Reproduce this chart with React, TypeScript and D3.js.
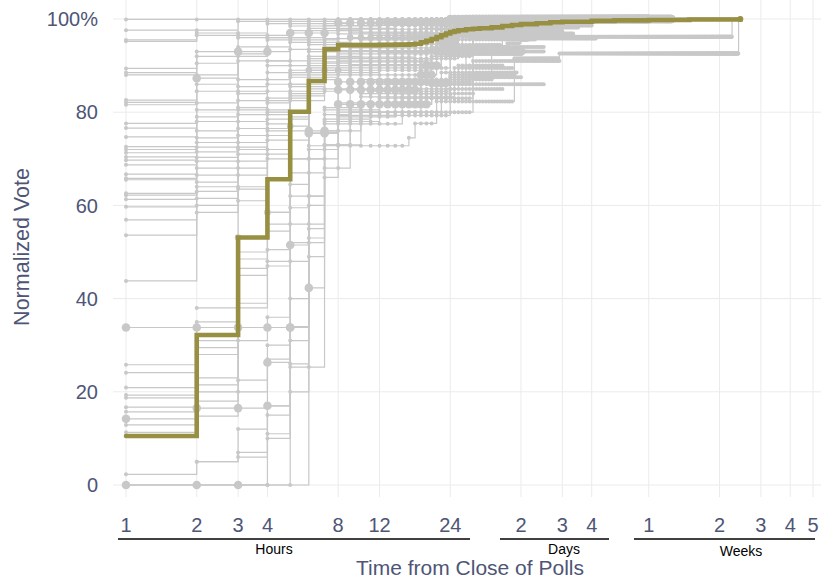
import React from "react";
import * as d3 from "d3";

// ---- Data ----
const hourTicks = [1, 2, 3, 4, 8, 12, 24];
const hourLabels = ["1", "2", "3", "4", "8", "12", "24"];
const dayTicks = [48, 72, 96];
const dayLabels = ["2", "3", "4"];
const weekTicks = [168, 336, 504, 672, 840];
const weekLabels = ["1", "2", "3", "4", "5"];
const yTicks = [0, 20, 40, 60, 80, 100];
const yLabels = ["0", "20", "40", "60", "80", "100%"];

const oliveHours = [1, 2, 3, 4, 5, 6, 7, 8, 12, 14, 16, 17, 18, 19, 20, 21, 22, 23, 24, 25, 26, 28, 30, 32, 36, 40, 44, 48, 56, 64, 72, 96, 120, 168, 250, 412];
const oliveValues = [10.5, 32.2, 53.1, 65.6, 80.1, 86.7, 93.5, 94.4, 94.45, 94.5, 94.55, 94.7, 95.0, 95.3, 95.7, 96.1, 96.5, 96.9, 97.2, 97.4, 97.6, 97.8, 97.9, 98.0, 98.2, 98.5, 98.7, 98.9, 99.1, 99.3, 99.4, 99.6, 99.7, 99.8, 99.9, 100];

// each grey series: list of [hour, normalized vote] reports where the value changed
const greyPaths: number[][][] = [
  [[1, 99.9], [20, 100]],
  [[1, 97.6], [3, 99.5], [8, 100]],
  [[1, 95.5], [2, 97], [4, 99], [9, 100]],
  [[1, 95.2], [2, 96.5], [5, 98.5], [12, 99.6]],
  [[1, 89.4], [2, 93], [3, 96], [6, 98], [14, 99.3], [40, 100]],
  [[1, 88.5], [2, 92], [4, 95.5], [8, 97.8], [30, 100]],
  [[1, 88.0], [2, 90.5], [3, 94], [5, 97.5], [10, 99], [30, 100]],
  [[1, 82.6], [2, 88], [3, 92.5], [4, 96], [7, 98.6], [26, 100]],
  [[1, 82.1], [2, 86], [3, 91], [5, 95], [9, 97.2], [20, 99], [40, 100]],
  [[1, 81.6], [2, 84.5], [4, 90], [6, 94.5], [11, 96.5], [22, 98.5], [50, 99.5]],
  [[1, 77.6], [2, 82], [3, 87], [5, 93.5], [8, 96.8], [22, 99.2]],
  [[1, 76.6], [2, 80.5], [3, 85.5], [4, 91], [7, 95.8], [18, 98]],
  [[1, 74.7], [2, 79], [3, 84], [4, 88.5], [6, 93], [10, 95.5], [21, 97.7], [34, 99]],
  [[1, 72.6], [2, 78], [3, 82.5], [5, 89], [7, 94], [16, 96.8], [28, 98.6]],
  [[1, 72.0], [2, 76], [3, 81], [4, 86], [6, 91.5], [9, 94.8], [19, 97]],
  [[1, 71.3], [2, 74.5], [3, 80.5], [5, 87.5], [8, 92.5], [20, 95.3], [26, 97.4]],
  [[1, 70.4], [2, 73.5], [3, 79.5], [4, 84.5], [6, 90], [22, 94], [30, 96.5]],
  [[1, 69.7], [2, 72.5], [4, 82], [5, 88], [7, 93], [24, 96.2]],
  [[1, 68.7], [2, 71.5], [3, 78], [4, 83], [6, 90.5], [9, 93.8], [23, 97.3]],
  [[1, 66.7], [2, 70.3], [3, 76.5], [5, 85.5], [7, 91.8], [17, 94.6], [25, 98.2]],
  [[1, 65.8], [2, 69.5], [3, 75], [4, 80], [6, 89.5], [8, 93.2], [30, 96]],
  [[1, 65.5], [2, 68], [3, 73.5], [4, 79.5], [5, 86], [7, 91.5], [21, 95.6]],
  [[1, 62.6], [2, 66.5], [3, 72], [4, 78.5], [6, 88.5], [12, 92.8], [24, 96.4]],
  [[1, 62.2], [2, 65], [3, 71], [5, 84], [7, 90.8], [19, 93.5], [27, 96.9]],
  [[1, 61.3], [2, 64], [4, 77.5], [5, 83.5], [7, 89], [20, 92], [30, 95.8]],
  [[1, 59.7], [2, 63], [3, 69.5], [4, 76], [6, 87], [8, 91], [20, 94]],
  [[1, 56.9], [2, 61.5], [3, 68], [4, 75], [5, 82.5], [7, 88], [18, 91.5], [26, 94.5], [40, 96]],
  [[1, 53.6], [2, 60], [3, 66.5], [4, 74], [6, 85], [9, 90.2], [22, 93]],
  [[1, 43.8], [2, 58.5], [3, 63.5], [4, 72], [5, 79], [6, 84.5], [8, 89.5], [24, 94]],
  [[1, 33.8], [5, 33.8], [6, 42.3], [7, 75.6], [8, 86.5], [19, 90], [22, 95], [26, 99], [30, 100]],
  [[1, 25.8], [2, 35], [3, 50], [4, 58.5], [5, 70], [7, 80.5], [12, 83], [30, 88]],
  [[1, 24.1], [2, 31], [3, 48.5], [4, 56], [5, 67], [7, 79.5], [9, 85], [26, 90]],
  [[1, 20.9], [2, 29.5], [3, 46.5], [4, 54.5], [5, 64.5], [6, 75.5], [8, 82], [20, 86], [28, 93]],
  [[1, 19.3], [2, 28], [3, 45], [4, 50.5], [5, 62], [7, 78.5], [11, 84.5], [24, 88], [36, 94]],
  [[1, 18.7], [2, 23], [3, 39], [4, 48], [5, 59.5], [6, 72], [8, 80], [18, 86.5], [30, 91]],
  [[1, 16.7], [2, 21.5], [3, 38], [4, 47], [5, 56], [7, 76], [10, 83.3], [25, 89.5]],
  [[1, 15.7], [2, 20], [3, 31], [4, 36], [5, 52], [6, 70], [8, 79], [14, 84], [22, 88.5]],
  [[1, 14.2], [2, 16.5], [4, 17], [5, 51.5], [6, 75.5], [8, 84.8], [18, 88], [21, 93], [25, 97], [28, 100]],
  [[1, 12.9], [2, 18], [3, 22.5], [4, 30], [5, 48], [6, 62], [7, 77.5], [15, 83], [24, 87.5]],
  [[1, 11.3], [2, 14.8], [3, 20], [4, 27], [5, 40], [6, 55], [7, 68], [9, 80], [22, 86]],
  [[1, 2.3], [2, 5], [3, 12], [4, 17], [5, 31], [6, 53], [7, 73], [9, 80], [30, 88]],
  [[1, 0], [4, 26.3], [5, 33.8], [6, 76], [8, 81.7], [20, 86.3], [24, 93]],
  [[1, 0], [6, 72.8], [16, 74.5], [17, 77.6], [21, 82.3], [45, 91.6], [70, 92.6], [405, 100]],
  [[1, 0], [5, 25.3], [7, 78], [12, 86], [30, 93], [36, 94], [42, 94.8], [48, 95.5], [52, 96.2], [380, 100]],
  [[2, 87.3], [3, 93], [5, 97], [8, 99.2], [24, 100]],
  [[2, 5], [3, 7], [4, 15], [5, 26], [6, 49], [7, 66], [8, 79.3], [24, 85]],
  [[2, 38], [3, 61], [4, 70], [6, 92], [10, 97], [24, 99.6]],
  [[3, 6], [4, 11], [5, 34], [6, 60], [7, 81], [10, 87]],
  [[3, 53.1], [4, 58.5], [5, 77], [6, 89], [9, 96], [26, 99.7]],
  [[4, 10], [5, 20], [6, 52], [7, 73], [10, 84]],
];
const greyEnds = [412, 36, 40, 48, 60, 44, 50, 40, 55, 72, 30, 48, 60, 96, 52, 72, 80, 60, 66, 84, 40, 55, 70, 80, 100, 36, 96, 60, 42, 168, 45, 40, 50, 60, 70, 44, 46, 210, 48, 60, 40, 48, 405, 380, 168, 40, 48, 36, 100, 30];
const greyWeights = [1, 1, 1, 1, 1, 1, 1, 1, 1, 1, 1, 1, 1, 1, 1, 1, 1, 1, 1, 1, 1, 1, 1, 1, 1, 1, 1, 1, 1, 3, 1, 1, 1, 1, 1, 1, 1, 3, 1, 1, 1, 3, 1, 1, 3, 1, 1, 1, 2, 1];

// ---- Layout ----
const W = 821;
const H = 580;
const FONT = "'Liberation Sans', Arial, Helvetica, sans-serif";
const AXIS_COLOR = "#4e5576";
const GREY = "#c8c8c8";
const OLIVE = "#978f42";

const x = d3.scaleLog().domain([1, 840]).range([126, 813]);
const y = d3.scaleLinear().domain([0, 100]).range([485, 19]);
const rScale = d3.scaleSqrt().domain([1, 3]).range([2.0, 4.3]);

const stepLine = d3
  .line<number[]>()
  .x((d) => x(d[0]))
  .y((d) => y(d[1]))
  .curve(d3.curveStepAfter);

function seriesPoints(path: number[][], end: number) {
  const pts = path.map((p) => [p[0], p[1]]);
  const last = pts[pts.length - 1];
  if (end > last[0]) pts.push([end, last[1]]);
  return pts;
}

function hourlyDots(path: number[][], end: number) {
  const out: number[][] = [];
  let k = 0;
  for (let h = path[0][0]; h <= end; h++) {
    while (k + 1 < path.length && path[k + 1][0] <= h) k++;
    out.push([h, path[k][1]]);
  }
  return out;
}

export default function App() {
  const allTicks = [...hourTicks, ...dayTicks, ...weekTicks];
  const allLabels = [...hourLabels, ...dayLabels, ...weekLabels];
  const olivePts = oliveHours.map((h, i) => [h, oliveValues[i]]);
  const oliveEnd = olivePts[olivePts.length - 1];

  const brackets = [
    { x1: 118, x2: 470, label: "Hours", lx: 274, ly: 554 },
    { x1: 500, x2: 609, label: "Days", lx: 564, ly: 554 },
    { x1: 634, x2: 815, label: "Weeks", lx: 741, ly: 556 },
  ];

  return (
    <svg
      width={W}
      height={H}
      style={{ position: "absolute", left: 0, top: 0, background: "#fff" }}
      fontFamily={FONT}
    >
      {/* grid */}
      <g>
        {yTicks.map((t) => (
          <line key={"gy" + t} x1={113} x2={W} y1={y(t)} y2={y(t)} stroke="#ebebeb" strokeWidth={1} />
        ))}
        {allTicks.map((t) => (
          <line key={"gx" + t} x1={x(t)} x2={x(t)} y1={0} y2={497} stroke="#ebebeb" strokeWidth={1} />
        ))}
      </g>

      {/* grey step lines */}
      <g fill="none" stroke={GREY} strokeWidth={1.2}>
        {greyPaths.map((p, i) => (
          <path key={"gl" + i} d={stepLine(seriesPoints(p, greyEnds[i])) || ""} />
        ))}
      </g>
      {/* grey points */}
      <g fill={GREY}>
        {greyPaths.map((p, i) =>
          hourlyDots(p, greyEnds[i]).map((d, j) => (
            <circle key={"gd" + i + "_" + j} cx={x(d[0])} cy={y(d[1])} r={rScale(greyWeights[i])} />
          ))
        )}
      </g>

      {/* olive aggregate */}
      <path
        d={stepLine(olivePts) || ""}
        fill="none"
        stroke={OLIVE}
        strokeWidth={4.6}
        strokeLinecap="round"
      />
      <circle cx={x(oliveEnd[0])} cy={y(oliveEnd[1])} r={3} fill={OLIVE} />

      {/* y axis labels */}
      <g fill={AXIS_COLOR} fontSize={20}>
        {yTicks.map((t, i) => (
          <text key={"yl" + t} x={98} y={y(t)} dy="0.36em" textAnchor="end">
            {yLabels[i]}
          </text>
        ))}
      </g>
      <text
        transform={`translate(22,247) rotate(-90)`}
        textAnchor="middle"
        dominantBaseline="central"
        fill={AXIS_COLOR}
        fontSize={21.5}
      >
        Normalized Vote
      </text>

      {/* x axis labels */}
      <g fill={AXIS_COLOR} fontSize={20}>
        {allTicks.map((t, i) => (
          <text key={"xl" + t} x={x(t)} y={532} textAnchor="middle">
            {allLabels[i]}
          </text>
        ))}
      </g>

      {/* unit brackets */}
      {brackets.map((b) => (
        <g key={b.label}>
          <line x1={b.x1} x2={b.x2} y1={539} y2={539} stroke="#000" strokeWidth={1.3} />
          <text x={b.lx} y={b.ly} textAnchor="middle" fontSize={14} fill="#000">
            {b.label}
          </text>
        </g>
      ))}

      <text x={470} y={575} textAnchor="middle" fill={AXIS_COLOR} fontSize={21}>
        Time from Close of Polls
      </text>
    </svg>
  );
}
